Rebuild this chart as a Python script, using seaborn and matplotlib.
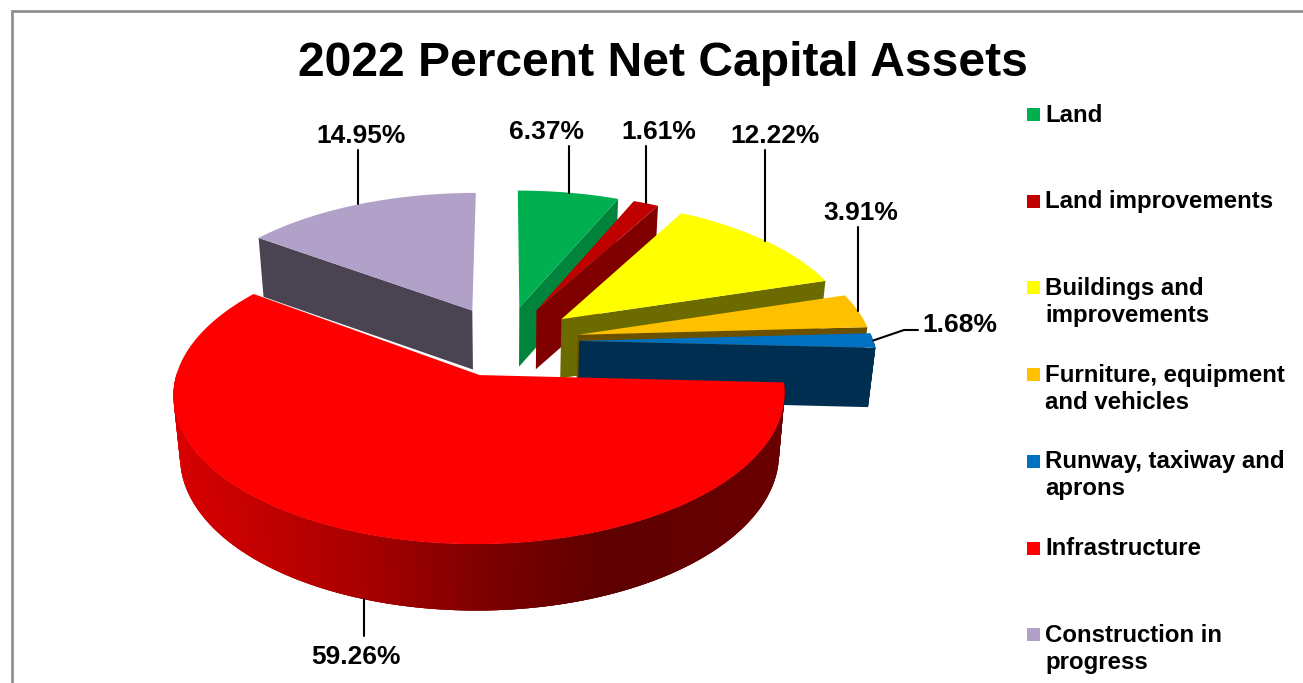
import numpy as np
import seaborn as sns
import matplotlib
matplotlib.use("Agg")
import matplotlib.pyplot as plt
from matplotlib.patches import Polygon, Rectangle

# 1. DATA
categories = ["Land", "Land improvements", "Buildings and\nimprovements",
              "Furniture, equipment\nand vehicles", "Runway, taxiway and\naprons",
              "Infrastructure", "Construction in\nprogress"]
percent = [6.37, 1.61, 12.22, 3.91, 1.68, 59.26, 14.95]
top_colors = ["#00B050", "#C00000", "#FFFF00", "#FFC000", "#0070C0", "#FF0000", "#B1A0C7"]
side_colors = ["#00843C", "#800000", "#6B6B00", "#6B5000", "#002E50", "#800000", "#4A4452"]

# where each value label sits, and the end of its leader line
label_xy = [(546, 132), (659, 132), (775, 136), (861, 213), (960, 325), (356, 657), (361, 136)]
leader_end = [(None, 146), (None, 146), (None, 150), (None, 227), (918, 330), (None, 636), (None, 150)]

# 2. PIE GEOMETRY (a flat disk seen in perspective)
CX, CY, A, B, K = 505, 341, 275, 130, 0.115
RADIUS, EXPLODE, DEPTH, SHRINK = 1.07, 0.27, 59, 0.98


def project(u, v, bottom=False):
    w = 1 + K * v
    x = CX + A * u / w
    y = CY - B * v / w
    if bottom:
        x = CX + (x - CX) * SHRINK
        # the near side of the pie looks a bit taller
        y = y + DEPTH * (1 - 0.095 * min(v, 0))
    return x, y


def disk_point(theta, mid):
    u = EXPLODE * np.sin(mid) + RADIUS * np.sin(theta)
    v = EXPLODE * np.cos(mid) + RADIUS * np.cos(theta)
    return u, v


def red_side_color(x):
    # the infrastructure rim is shaded left to right, bright to dark
    r = np.interp(x, [173, 200, 364, 478, 609, 785], [0xd8, 0xd2, 0xa8, 0x80, 0x5e, 0x6a])
    return (r / 255, 0, 0)


sns.set_theme(style="white")
plt.rcParams["font.family"] = ["Liberation Sans", "DejaVu Sans"]
palette = sns.color_palette(top_colors)

fig = plt.figure(figsize=(13.03, 6.83), dpi=100)
ax = fig.add_axes([0, 0, 1, 1])
ax.set_xlim(0, 1303)
ax.set_ylim(683, 0)
ax.axis("off")

# chart frame
ax.plot([12, 12, 1303], [683, 11, 11], color="#8c8c8c", lw=1.9, solid_joinstyle="miter")

# 3. SLICES: purple at the back, infrastructure last
edges = np.radians(np.cumsum([0] + percent) * 3.6)
order = [6, 0, 1, 2, 3, 4, 5]
for i in order:
    t1, t2 = edges[i], edges[i + 1]
    mid = (t1 + t2) / 2
    ts = np.linspace(t1, t2, max(8, int(np.degrees(t2 - t1) * 2)))
    us, vs = disk_point(ts, mid)
    apex = (EXPLODE * np.sin(mid), EXPLODE * np.cos(mid))

    top = [project(*apex)] + [project(u, v) for u, v in zip(us, vs)]
    # radial faces that turn towards the viewer
    for t, u, v in [(t1, us[0], vs[0]), (t2, us[-1], vs[-1])]:
        facing = np.sin(t) < -1e-6 if t == t1 else np.sin(t) > 1e-6
        if facing:
            quad = [project(*apex), project(u, v), project(u, v, True), project(*apex, True)]
            ax.add_patch(Polygon(quad, closed=True, fc=side_colors[i], ec="none"))
    # rim, each strip runs under the next one so no seams show
    for j in range(len(ts) - 1):
        if np.cos((ts[j] + ts[j + 1]) / 2) < 0:
            k = min(j + 3, len(ts) - 1)
            quad = [project(us[j], vs[j]), project(us[k], vs[k]),
                    project(us[k], vs[k], True), project(us[j], vs[j], True)]
            col = red_side_color(quad[0][0]) if categories[i] == "Infrastructure" else side_colors[i]
            ax.add_patch(Polygon(quad, closed=True, fc=col, ec="none"))
    ax.add_patch(Polygon(top, closed=True, fc=palette[i], ec="none", zorder=2 + order.index(i) * 0.01))
    if categories[i] == "Infrastructure":
        ax.plot([top[0][0], top[-1][0]], [top[0][1], top[-1][1]], color="#e8e8e8", lw=0.7, zorder=1.9)

# 4. VALUE LABELS AND LEADERS
for i, val in enumerate(percent):
    mid = (edges[i] + edges[i + 1]) / 2
    u, v = disk_point(mid, mid)
    below = np.cos(mid) < 0
    bx, by = project(u, v, below)
    ex, ey = leader_end[i]
    if ex is None:
        ax.plot([bx, bx], [by, ey], color="black", lw=1.5, zorder=1.5 if below else 3)
    else:
        ax.plot([bx, ex - 14, ex], [by, ey, ey], color="black", lw=1.5, zorder=3)
    ax.text(*label_xy[i], f"{val:.2f}%", ha="center", va="center",
            fontsize=19, fontweight="bold", color="black", zorder=4)

# 5. TITLE AND LEGEND
ax.text(663, 64, "2022 Percent Net Capital Assets", ha="center", va="center",
        fontsize=34.6, fontweight="bold", color="black")
for i, name in enumerate(categories):
    y = 114 + i * 86.7
    ax.add_patch(Rectangle((1027, y - 6), 13, 13, fc=palette[i], ec="none"))
    ax.text(1045, y - 10.5, name, ha="left", va="top", fontsize=17.3,
            fontweight="bold", color="black", linespacing=1.22)

fig.savefig("out.png", dpi=100)
